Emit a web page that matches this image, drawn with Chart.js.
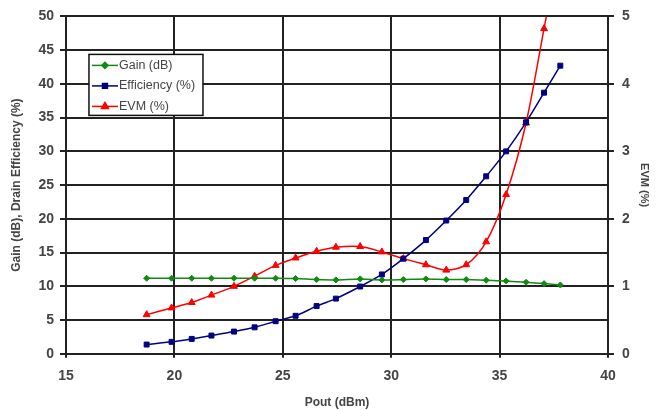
<!DOCTYPE html>
<html>
<head>
<meta charset="utf-8">
<script src="https://cdn.jsdelivr.net/npm/chart.js@4.4.0/dist/chart.umd.min.js"></script>
<style>
  html, body { margin: 0; padding: 0; background: #fff; }
  #wrap { width: 658px; height: 410px; }
</style>
</head>
<body>
<div id="wrap"><canvas id="chart"></canvas></div>
<script>
// Pout (dBm), lectura del gráfico
const pout = [18.72, 19.87, 20.80, 21.71, 22.75, 23.70, 24.67, 25.59, 26.56, 27.45,
              28.57, 29.57, 30.56, 31.60, 32.54, 33.46, 34.38, 35.30, 36.22, 37.05, 37.80];
const gain = [11.2, 11.2, 11.2, 11.2, 11.2, 11.2, 11.2, 11.15, 11.0, 10.95,
              11.1, 10.95, 11.0, 11.1, 11.0, 11.0, 10.9, 10.8, 10.6, 10.4, 10.2];
const efficiency = [1.37, 1.77, 2.21, 2.70, 3.29, 3.92, 4.83, 5.63, 7.07, 8.18,
                    9.97, 11.76, 14.1, 16.85, 19.75, 22.8, 26.3, 30.0, 34.3, 38.7, 42.7];
const evm = [0.58, 0.68, 0.76, 0.87, 1.0, 1.15, 1.31, 1.42, 1.52, 1.58,
             1.59, 1.51, 1.41, 1.32, 1.24, 1.32, 1.66, 2.36, 3.42, 4.82, 6.1];
const labels = ['Gain (dB)', 'Efficiency (%)', 'EVM (%)'];

const pts = (ys) => pout.map((x, i) => ({ x: x, y: ys[i] }));
const txt = '#444';
const gridCol = '#222';
const fam = '"Liberation Sans", Arial, sans-serif';

// Leyenda dibujada dentro del área del gráfico
const boxLegend = {
  id: 'boxLegend',
  afterDraw(chart) {
    const ctx = chart.ctx;
    const ca = chart.chartArea;
    const x0 = ca.left + 23, y0 = ca.top + 38, w = 114, h = 61;
    ctx.save();
    ctx.fillStyle = '#fff';
    ctx.fillRect(x0, y0, w, h);
    ctx.lineWidth = 1.5;
    ctx.strokeStyle = '#111';
    ctx.strokeRect(x0, y0, w, h);
    chart.data.datasets.forEach((ds, i) => {
      const y = y0 + 11 + i * 20.5;
      ctx.strokeStyle = ds.borderColor;
      ctx.lineWidth = 1.5;
      ctx.beginPath();
      ctx.moveTo(x0 + 3, y);
      ctx.lineTo(x0 + 29, y);
      ctx.stroke();
      Chart.helpers.drawPoint(ctx, {
        pointStyle: ds.pointStyle, radius: ds.pointRadius, rotation: ds.pointRotation || 0,
        borderWidth: 1
      }, x0 + 16, y);
      ctx.fillStyle = ds.borderColor;
      ctx.fill();
      ctx.fillStyle = txt;
      ctx.font = '12.5px ' + fam;
      ctx.textBaseline = 'middle';
      ctx.fillText(ds.label, x0 + 30, y);
    });
    ctx.restore();
  }
};

new Chart(document.getElementById('chart'), {
  type: 'line',
  data: {
    datasets: [
      {
        label: labels[0], data: pts(gain), yAxisID: 'y',
        borderColor: '#108a10', backgroundColor: '#108a10', borderWidth: 1.5,
        pointStyle: 'rectRot', pointRadius: 3, pointBorderWidth: 1, tension: 0.3
      },
      {
        label: labels[1], data: pts(efficiency), yAxisID: 'y',
        borderColor: '#000080', backgroundColor: '#000080', borderWidth: 1.5,
        pointStyle: 'rect', pointRadius: 3.5, pointBorderWidth: 1, tension: 0.3
      },
      {
        label: labels[2], data: pts(evm), yAxisID: 'y1',
        borderColor: '#ff0000', backgroundColor: '#ff0000', borderWidth: 1.5,
        pointStyle: 'triangle', pointRadius: 4, pointBorderWidth: 1, tension: 0.3
      }
    ]
  },
  options: {
    responsive: true,
    maintainAspectRatio: false,
    animation: false,
    layout: { padding: { top: 5, right: 1, bottom: 0, left: 9 } },
    plugins: { legend: { display: false }, tooltip: { enabled: false } },
    scales: {
      x: {
        type: 'linear', min: 15, max: 40,
        ticks: { stepSize: 5, color: txt, padding: 10,
                 font: { family: fam, size: 14, weight: 'bold' } },
        grid: { color: gridCol, lineWidth: 2, tickLength: 4 },
        border: { color: gridCol, width: 2 },
        title: { display: true, text: 'Pout (dBm)', color: txt, padding: { top: 1, bottom: 0 },
                 font: { family: fam, size: 12, weight: 'bold' } }
      },
      y: {
        position: 'left', min: 0, max: 50,
        ticks: { stepSize: 5, color: txt, padding: 6,
                 font: { family: fam, size: 14, weight: 'bold' } },
        grid: { color: gridCol, lineWidth: 2, tickLength: 6 },
        border: { color: gridCol, width: 2 },
        title: { display: true, text: 'Gain (dB), Drain Efficiency (%)', color: txt, padding: { top: 0, bottom: 9 },
                 font: { family: fam, size: 12, weight: 'bold' } }
      },
      y1: {
        position: 'right', min: 0, max: 5,
        ticks: { stepSize: 1, color: txt, padding: 8,
                 font: { family: fam, size: 14, weight: 'bold' } },
        grid: { drawOnChartArea: false, color: gridCol, lineWidth: 2, tickLength: 6 },
        border: { color: gridCol, width: 2 },
        title: { display: true, text: 'EVM (%)', color: txt, padding: { top: 6, bottom: 0 },
                 font: { family: fam, size: 11, weight: 'bold' } }
      }
    }
  },
  plugins: [boxLegend]
});
</script>
</body>
</html>
